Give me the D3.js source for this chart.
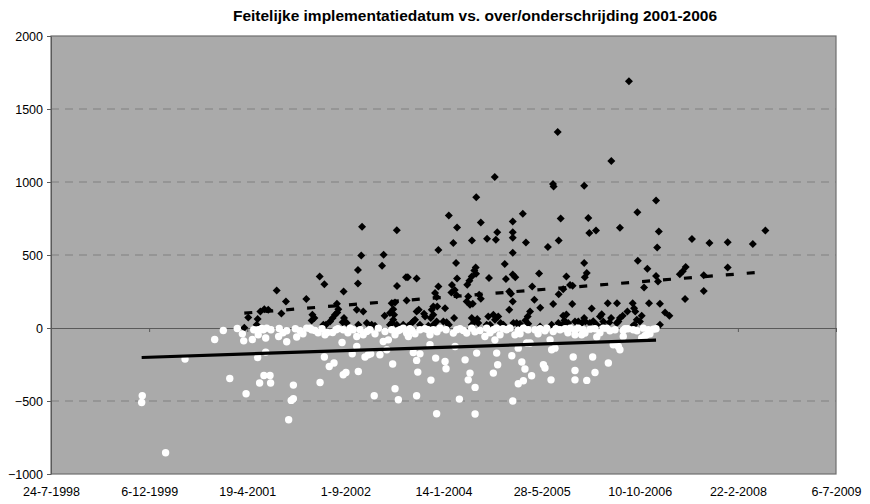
<!DOCTYPE html>
<html>
<head>
<meta charset="utf-8">
<script src="https://cdn.jsdelivr.net/npm/d3@7"></script>
<style>
  body { margin: 0; background: #fff; }
  text { font-family: "Liberation Sans", Arial, sans-serif; fill: #000; }
</style>
</head>
<body>
<svg id="chart"></svg>
<script>
// x values are Excel serial day numbers (36000 = 24-7-1998), y values are days over/under

const titleText = "Feitelijke implementatiedatum vs. over/onderschrijding 2001-2006";

// overschrijding (black diamonds)
const overDate = [
  36985, 37005, 37048, 37053, 37067, 37087, 37107, 37150, 37174, 37197, 37301, 37328, 37332, 37342, 37369, 37393,
  37401, 37422, 37435, 37447, 37459, 37464, 37457, 37491, 37486, 37493, 37498, 37507, 37558, 37564, 37564, 37566,
  37581, 37585, 37591, 37609, 37634, 37651, 37687, 37695, 37700, 37727, 37736, 37744, 37748, 37753, 37736, 37762,
  37762, 37763, 37809, 37818, 37812, 37821, 37838, 37855, 37863, 37874, 37901, 37880, 37923, 37846, 37863, 37906,
  37940, 37948, 37935, 37957, 37974, 37974, 37948, 37968, 37965, 37948, 37999, 38008, 38016, 38027, 38027, 37965,
  38043, 38040, 38057, 38067, 38050, 38054, 38064, 38069, 38069, 38118, 38126, 38135, 38149, 38121, 38132, 38144,
  38145, 38157, 38164, 38166, 38167, 38144, 38157, 38172, 38144, 38182, 38190, 38190, 38222, 38232, 38228, 38237,
  38254, 38262, 38279, 38291, 38261, 38267, 38274, 38305, 38312, 38318, 38335, 38344, 38353, 38335, 38353, 38353,
  38353, 38353, 38353, 38366, 38356, 38373, 38390, 38404, 38420, 38417, 38429, 38432, 38441, 38452, 38463, 38487,
  38493, 38492, 38532, 38558, 38561, 38559, 38551, 38582, 38587, 38587, 38585, 38597, 38610, 38626, 38645, 38610,
  38616, 38626, 38607, 38656, 38658, 38670, 38687, 38704, 38717, 38717, 38720, 38730, 38717, 38723, 38738, 38743,
  38755, 38763, 38777, 38781, 38806, 38814, 38837, 38854, 38845, 38855, 38884, 38899, 38891, 38913, 38899, 38937,
  38945, 38964, 38971, 38977, 38962, 38972, 38988, 38990, 39001, 39010, 39022, 39039, 39047, 39083, 39083, 39089,
  39097, 39093, 39103, 39103, 39129, 39151, 39204, 39219, 39234, 39231, 39266, 39326, 39326, 39355, 39448, 39448,
  39576, 39640, 37744, 37727, 37795, 38177, 38220, 38636, 38746, 38797, 38814, 38883, 38985, 37388
];
const overDays = [
  2, 72, 22, 61, 113, 129, 125, 257, 99, 181, 198, 51, 90, 68, 353, 300,
  22, 44, 68, 90, 106, 129, 166, 250, 40, 68, 44, 34, 125, 398, 305, 22,
  496, 693, 113, 34, 22, 15, 426, 501, 84, 102, 170, 129, 90, 175, 34, 22,
  670, 287, 348, 348, 188, 15, 34, 56, 339, 125, 97, 22, 15, 44, 113, 79,
  125, 90, 68, 239, 284, 535, 147, 147, 44, 22, 44, 136, 40, 22, 770, 212,
  294, 243, 261, 225, 583, 68, 446, 688, 339, 181, 216, 159, 166, 296, 323, 353,
  599, 394, 414, 371, 896, 68, 44, 61, 22, 227, 200, 722, 611, 342, 79, 22,
  90, 56, 79, 34, 1035, 604, 656, 22, 439, 335, 250, 234, 181, 125, 729, 656,
  619, 515, 366, 348, 34, 34, 29, 782, 585, 51, 79, 29, 113, 284, 193, 373,
  138, 10, 554, 987, 969, 164, 22, 1343, 599, 232, 34, 750, 266, 353, 294, 84,
  51, 92, 22, 164, 289, 44, 44, 34, 975, 446, 348, 376, 68, 44, 754, 650,
  133, 47, 667, 22, 95, 20, 170, 68, 38, 1144, 170, 68, 44, 84, 686, 113,
  1690, 170, 136, 113, 10, 22, 793, 460, 44, 84, 277, 405, 170, 873, 357, 551,
  661, 318, 166, 22, 106, 84, 369, 389, 417, 198, 609, 362, 253, 583, 588, 414,
  576, 667, 56, 22, 22, 34, 22, 34, 34, 79, 44, 34, 56, 22
];

// onderschrijding (white circles)
const underDate = [
  36465, 36462, 36584, 36683, 36834, 36878, 36911, 36949, 36975, 36982, 36994, 37026, 37033, 37056, 37056, 37053,
  37063, 37074, 37082, 37094, 37085, 37094, 37099, 37116, 37119, 37163, 37160, 37201, 37201, 37211, 37224, 37235,
  37235, 37245, 37252, 37269, 37303, 37328, 37345, 37361, 37371, 37381, 37393, 37408, 37418, 37435, 37442, 37462,
  37483, 37489, 37489, 37503, 37513, 37535, 37540, 37558, 37558, 37566, 37575, 37591, 37600, 37617, 37609, 37647,
  37668, 37702, 37693, 37719, 37736, 37629, 37676, 37741, 37770, 37753, 37863, 37795, 37812, 37821, 37880, 37931,
  37948, 37982, 37846, 37863, 37880, 37869, 37936, 37965, 37931, 37960, 38008, 38013, 37711, 37768, 37840, 37906,
  38013, 38050, 38059, 38067, 38101, 38118, 38110, 38081, 38135, 38126, 38161, 38161, 38169, 38144, 38186, 38220,
  38211, 38254, 38271, 38288, 38262, 38271, 38322, 38339, 38364, 38381, 38407, 38276, 38254, 38348, 38381, 38399,
  38415, 38424, 38441, 38449, 38381, 38407, 38353, 38466, 38492, 38526, 38559, 38543, 38551, 38568, 38509, 38517,
  38548, 38594, 38619, 38645, 38670, 38687, 38712, 38670, 38704, 38661, 38670, 38670, 38730, 38721, 38760, 38772,
  38781, 38747, 38814, 38832, 38840, 38874, 38891, 38899, 38865, 38916, 38916, 38967, 39010, 39018, 39027, 39044,
  39069, 39035, 39083, 38772, 38940, 38986, 37121, 37182, 37284, 37320, 37396, 37452, 37524, 37625, 37651, 37753,
  37778, 37829, 37855, 37921, 37967, 38084, 38160, 38237, 38303, 38390, 38431, 38482, 38517, 38573, 38634, 38797,
  38848, 38925, 39052
];
const underDays = [
  -464, -510, -854, -213, -79, -17, -346, -3, -40, -88, -450, -79, -12, -12, -47, -202,
  -377, -3, -12, -69, -325, -165, -1, -325, -377, -3, -58, -19, -94, -628, -496, -485,
  -391, -5, -62, -19, -1, -12, -17, -33, -373, -5, -199, -31, -264, -31, -240, -5,
  -99, -12, -320, -305, -33, -177, -12, -58, -127, -298, -12, -47, -199, -183, -24, -464,
  -1, -24, -92, -81, -12, -177, -183, -247, -491, -416, -464, -1, -35, -58, -12, -47,
  -12, -1, -168, -222, -177, -302, -357, -587, -115, -206, -229, -279, -149, -19, -19, -5,
  -12, -35, -127, -12, -17, -35, -218, -487, -309, -355, -407, -589, -172, -1, -17, -1,
  -58, -12, -1, -47, -81, -172, -12, -1, -47, -17, -1, -252, -309, -190, -138, -233,
  -281, -103, -103, -327, -382, -361, -500, -12, -5, -1, -24, -81, -149, -138, -252, -274,
  -355, -12, -5, -1, -12, -1, -12, -47, -47, -199, -291, -355, -359, -35, -199, -305,
  -62, -8, -1, -1, -240, -12, -127, -149, -115, -58, -17, -12, -69, -1, -53, -12,
  -8, -47, -5, -5, -5, -19, -12, -33, -40, -1, -47, -12, -2, -12, -40, -47,
  -12, -5, -40, -12, -26, -5, -26, -33, -5, -40, -12, -40, -19, -5, -33, -33,
  -19, -5, -40
];

// linear trendlines: [start, end] as [serial, days]
const overTrend = [[36985, 102], [39640, 385]];
const underTrend = [[36462, -202], [39083, -83]];

const xTicks = [36000, 36500, 37000, 37500, 38000, 38500, 39000, 39500, 40000];
const yTicks = [-1000, -500, 0, 500, 1000, 1500, 2000];

const width = 870, height = 504;
const plot = { left: 51, right: 836, top: 36, bottom: 474 };

const svg = d3.select('#chart')
  .attr('width', width)
  .attr('height', height);

const x = d3.scaleLinear().domain([36000, 40000]).range([plot.left, plot.right]);
const y = d3.scaleLinear().domain([-1000, 2000]).range([plot.bottom, plot.top]);

const serialToDate = s => new Date(Date.UTC(1899, 11, 30) + s * 864e5);
const fmtDate = d3.utcFormat('%-d-%-m-%Y');

// plot area
svg.append('rect')
  .attr('x', plot.left).attr('y', plot.top)
  .attr('width', plot.right - plot.left)
  .attr('height', plot.bottom - plot.top)
  .attr('fill', '#aaaaaa');

// dashed gridlines
svg.append('g')
  .selectAll('line')
  .data(yTicks.filter(v => v !== 0 && v !== 2000 && v !== -1000))
  .join('line')
  .attr('x1', plot.left).attr('x2', plot.right)
  .attr('y1', d => y(d)).attr('y2', d => y(d))
  .attr('stroke', '#808080')
  .attr('stroke-width', 1)
  .attr('stroke-dasharray', '8,6');

// border
svg.append('rect')
  .attr('x', plot.left).attr('y', plot.top)
  .attr('width', plot.right - plot.left)
  .attr('height', plot.bottom - plot.top)
  .attr('fill', 'none')
  .attr('stroke', '#6e6e6e')
  .attr('stroke-width', 1.2);

// y axis
const yAxis = svg.append('g')
  .attr('transform', `translate(${plot.left},0)`)
  .call(d3.axisLeft(y).tickValues(yTicks).tickFormat(d3.format('d'))
    .tickSize(4).tickPadding(4).tickSizeOuter(0));
yAxis.select('.domain').attr('stroke', '#5a5a5a');
yAxis.selectAll('.tick line').attr('stroke', '#5a5a5a');
yAxis.selectAll('text').style('font-size', '12.5px');

// x axis crosses at 0, labels sit at the bottom
const xAxis = svg.append('g')
  .attr('transform', `translate(0,${y(0)})`)
  .call(d3.axisBottom(x).tickValues(xTicks).tickSize(4).tickSizeOuter(0).tickFormat(''));
xAxis.select('.domain').attr('stroke', '#5a5a5a');
xAxis.selectAll('.tick line').attr('stroke', '#5a5a5a');

const xLabels = svg.append('g')
  .attr('transform', `translate(0,${plot.bottom})`)
  .call(d3.axisBottom(x).tickValues(xTicks).tickSize(0).tickPadding(13)
    .tickFormat(d => fmtDate(serialToDate(d))));
xLabels.select('.domain').remove();
xLabels.selectAll('text').style('font-size', '12.5px');

// diamonds
const overData = overDate.map((d, i) => [d, overDays[i]]);
const underData = underDate.map((d, i) => [d, underDays[i]]);

svg.append('g')
  .selectAll('path')
  .data(overData)
  .join('path')
  .attr('d', d3.symbol(d3.symbolSquare, 32))
  .attr('transform', d => `translate(${x(d[0])},${y(d[1])}) rotate(45)`)
  .attr('fill', '#000');

// circles
svg.append('g')
  .selectAll('circle')
  .data(underData)
  .join('circle')
  .attr('cx', d => x(d[0]))
  .attr('cy', d => y(d[1]))
  .attr('r', 3.7)
  .attr('fill', '#fff');

// trendlines
const line = d3.line().x(d => x(d[0])).y(d => y(d[1]));

svg.append('path')
  .datum(overTrend)
  .attr('d', line)
  .attr('fill', 'none')
  .attr('stroke', '#000')
  .attr('stroke-width', 3.2)
  .attr('stroke-dasharray', '8,13');

svg.append('path')
  .datum(underTrend)
  .attr('d', line)
  .attr('fill', 'none')
  .attr('stroke', '#000')
  .attr('stroke-width', 3.2);

// title
svg.append('text')
  .attr('x', 475)
  .attr('y', 21)
  .attr('text-anchor', 'middle')
  .style('font-size', '15.5px')
  .style('font-weight', 'bold')
  .text(titleText);
</script>
</body>
</html>
